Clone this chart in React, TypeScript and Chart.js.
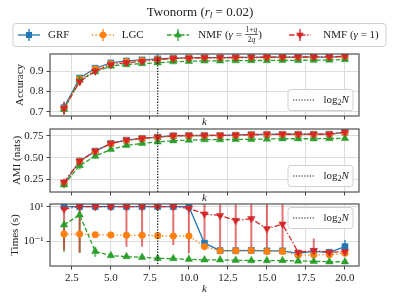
import React, { useEffect, useRef } from "react";
import { Chart, registerables } from "chart.js";
Chart.register(...registerables);

const FONT = "'Liberation Serif', 'Times New Roman', 'DejaVu Serif', serif";

// ---------- data ----------
const K = [2, 3, 4, 5, 6, 7, 8, 9, 10, 11, 12, 13, 14, 15, 16, 17, 18, 19, 20];
const X_TICKS = [2.5, 5, 7.5, 10, 12.5, 15, 17.5, 20];
const LOG2N = 8;

const ACC_TICKS = [0.7, 0.8, 0.9];
const AMI_TICKS = [0.25, 0.5, 0.75];
const TIME_TICKS = [0.1, 10];

const GRF_ACC = [0.72, 0.866, 0.914, 0.94, 0.95, 0.955, 0.96, 0.964, 0.965, 0.966, 0.966, 0.967, 0.967, 0.968, 0.968, 0.968, 0.969, 0.969, 0.971];
const LGC_ACC = [0.716, 0.862, 0.91, 0.936, 0.947, 0.952, 0.957, 0.962, 0.963, 0.964, 0.964, 0.965, 0.965, 0.966, 0.966, 0.967, 0.967, 0.967, 0.969];
const NMFQ_ACC = [0.712, 0.856, 0.897, 0.925, 0.932, 0.937, 0.941, 0.946, 0.948, 0.95, 0.95, 0.951, 0.952, 0.952, 0.953, 0.953, 0.954, 0.954, 0.957];
const NMF1_ACC = [0.716, 0.848, 0.9, 0.932, 0.941, 0.948, 0.955, 0.962, 0.964, 0.966, 0.966, 0.967, 0.968, 0.968, 0.969, 0.969, 0.97, 0.97, 0.973];
const GRF_ACC_ERR = [0.03, 0.012, 0.008, 0.006, 0.005, 0.005, 0.004, 0.004, 0.004, 0.004, 0.004, 0.003, 0.003, 0.003, 0.003, 0.003, 0.003, 0.003, 0.003];
const LGC_ACC_ERR = [0.028, 0.012, 0.008, 0.006, 0.005, 0.005, 0.004, 0.004, 0.004, 0.004, 0.004, 0.003, 0.003, 0.003, 0.003, 0.003, 0.003, 0.003, 0.003];
const NMFQ_ACC_ERR = [0.025, 0.012, 0.009, 0.007, 0.006, 0.005, 0.005, 0.004, 0.004, 0.004, 0.004, 0.004, 0.004, 0.003, 0.003, 0.003, 0.003, 0.003, 0.003];
const NMF1_ACC_ERR = [0.03, 0.02, 0.01, 0.007, 0.006, 0.005, 0.004, 0.004, 0.004, 0.004, 0.004, 0.003, 0.003, 0.003, 0.003, 0.003, 0.003, 0.003, 0.003];

const GRF_AMI = [0.205, 0.46, 0.575, 0.663, 0.7, 0.72, 0.735, 0.75, 0.753, 0.753, 0.754, 0.757, 0.763, 0.766, 0.767, 0.767, 0.767, 0.768, 0.79];
const LGC_AMI = [0.2, 0.455, 0.57, 0.658, 0.695, 0.716, 0.732, 0.747, 0.75, 0.75, 0.751, 0.754, 0.76, 0.763, 0.764, 0.764, 0.764, 0.765, 0.785];
const NMFQ_AMI = [0.19, 0.41, 0.517, 0.594, 0.64, 0.663, 0.68, 0.693, 0.7, 0.705, 0.705, 0.708, 0.71, 0.713, 0.716, 0.716, 0.716, 0.718, 0.72];
const NMF1_AMI = [0.22, 0.46, 0.575, 0.663, 0.7, 0.72, 0.735, 0.75, 0.753, 0.753, 0.754, 0.757, 0.763, 0.766, 0.767, 0.767, 0.767, 0.768, 0.79];
const GRF_AMI_ERR = [0.04, 0.04, 0.03, 0.02, 0.015, 0.012, 0.01, 0.01, 0.009, 0.009, 0.008, 0.008, 0.008, 0.008, 0.008, 0.008, 0.008, 0.008, 0.008];
const LGC_AMI_ERR = [0.045, 0.045, 0.03, 0.02, 0.015, 0.012, 0.01, 0.01, 0.009, 0.009, 0.008, 0.008, 0.008, 0.008, 0.008, 0.008, 0.008, 0.008, 0.008];
const NMFQ_AMI_ERR = [0.035, 0.045, 0.03, 0.02, 0.015, 0.012, 0.011, 0.01, 0.01, 0.01, 0.009, 0.009, 0.009, 0.009, 0.009, 0.009, 0.009, 0.009, 0.009];
const NMF1_AMI_ERR = [0.04, 0.04, 0.03, 0.02, 0.015, 0.012, 0.01, 0.01, 0.009, 0.009, 0.008, 0.008, 0.008, 0.008, 0.008, 0.008, 0.008, 0.008, 0.008];

const GRF_T = [10.5, 10.5, 10.5, 10.5, 10.5, 10.5, 10.5, 10.5, 10.5, 0.081, 0.03, 0.03, 0.031, 0.029, 0.029, 0.021, 0.027, 0.024, 0.051];
const GRF_T_LO = [10, 10, 10, 10, 10, 10, 10, 10, 10, 0.07, 0.027, 0.027, 0.028, 0.026, 0.026, 0.019, 0.024, 0.021, 0.032];
const GRF_T_HI = [11, 11, 11, 11, 11, 11, 11, 11, 11, 0.095, 0.034, 0.034, 0.035, 0.032, 0.032, 0.024, 0.03, 0.027, 0.125];
const LGC_T = [0.27, 0.27, 0.25, 0.24, 0.23, 0.23, 0.22, 0.21, 0.21, 0.051, 0.029, 0.029, 0.03, 0.027, 0.027, 0.016, 0.017, 0.017, 0.021];
const LGC_T_LO = [0.24, 0.24, 0.22, 0.21, 0.2, 0.2, 0.2, 0.19, 0.19, 0.045, 0.026, 0.026, 0.027, 0.024, 0.024, 0.014, 0.015, 0.015, 0.018];
const LGC_T_HI = [0.3, 0.3, 0.28, 0.27, 0.26, 0.26, 0.25, 0.24, 0.24, 0.058, 0.032, 0.032, 0.033, 0.03, 0.03, 0.018, 0.019, 0.019, 0.024];
const NMFQ_T = [0.93, 3.5, 0.027, 0.0155, 0.0135, 0.0123, 0.0107, 0.0103, 0.0095, 0.0087, 0.0087, 0.0083, 0.008, 0.008, 0.008, 0.0075, 0.0072, 0.0068, 0.0068];
const NMFQ_T_LO = [0.025, 0.022, 0.013, 0.014, 0.012, 0.011, 0.0097, 0.0093, 0.0086, 0.0079, 0.0079, 0.0075, 0.0072, 0.0072, 0.0072, 0.0068, 0.0065, 0.0061, 0.0061];
const NMFQ_T_HI = [1.6, 6, 0.05, 0.017, 0.015, 0.0135, 0.0118, 0.0113, 0.0105, 0.0096, 0.0096, 0.0091, 0.0088, 0.0088, 0.0088, 0.0083, 0.0079, 0.0075, 0.0075];
const NMF1_T = [7.6, 10.5, 10.5, 10.5, 10.5, 10.5, 10.5, 10.5, 8.5, 3.9, 3.2, 1.66, 2.1, 0.55, 1.02, 0.024, 0.03, 0.024, 0.026];
const NMF1_T_LO = [0.033, 0.023, 9, 9, 0.051, 0.051, 9, 0.063, 0.021, 0.125, 0.026, 0.026, 0.026, 0.026, 0.026, 0.02, 0.021, 0.02, 0.02];
const NMF1_T_HI = [13, 13, 12, 12, 20, 20, 12, 20, 20, 20, 20, 20, 20, 20, 20, 0.03, 0.15, 0.03, 0.035];

// ---------- labels ----------
type Run = { t: string; size: number; it?: boolean; dy?: number };
type Frac = { num: Run[]; den: Run[] };
type Piece = Run | Frac;

const TITLE: Piece[] = [
  { t: "Twonorm (", size: 13 },
  { t: "r", size: 13, it: true },
  { t: "l", size: 9, it: true, dy: 3 },
  { t: " = 0.02)", size: 13 },
];
const SERIES_LABELS: Piece[][] = [
  [{ t: "GRF", size: 11 }],
  [{ t: "LGC", size: 11 }],
  [
    { t: "NMF (", size: 11 },
    { t: "γ", size: 11, it: true },
    { t: " = ", size: 11 },
    { num: [{ t: "1+", size: 7.5 }, { t: "q", size: 7.5, it: true }], den: [{ t: "2", size: 7.5 }, { t: "q", size: 7.5, it: true }] },
    { t: ")", size: 11 },
  ],
  [{ t: "NMF (", size: 11 }, { t: "γ", size: 11, it: true }, { t: " = 1)", size: 11 }],
];
const LOG_LABEL: Piece[] = [
  { t: "log", size: 11 },
  { t: "2", size: 8, dy: 3 },
  { t: "N", size: 11, it: true },
];

// ---------- styles ----------
const COLORS = ["#1f77b4", "#ff7f0e", "#2ca02c", "#d62728"];
const STYLES = [
  { pointStyle: "rect", radius: 4.3, dash: [] as number[], rotation: 0 },
  { pointStyle: "circle", radius: 3.3, dash: [1.3, 2.2], rotation: 0 },
  { pointStyle: "triangle", radius: 4.3, dash: [4.5, 2], rotation: 0 },
  { pointStyle: "triangle", radius: 4.3, dash: [5.5, 2, 1.3, 2], rotation: 180 },
];
const TEXT = "#222222";
const ERR_ALPHA = 0.65;

function alpha(hex: string, a: number) {
  const n = parseInt(hex.slice(1), 16);
  return `rgba(${(n >> 16) & 255},${(n >> 8) & 255},${n & 255},${a})`;
}
function fontOf(size: number, it?: boolean) {
  return `${it ? "italic " : ""}${size}px ${FONT}`;
}
function pieceW(ctx: CanvasRenderingContext2D, p: Piece): number {
  if ("num" in p) return Math.max(piecesW(ctx, p.num), piecesW(ctx, p.den)) + 2;
  ctx.font = fontOf(p.size, p.it);
  return ctx.measureText(p.t).width;
}
function piecesW(ctx: CanvasRenderingContext2D, ps: Piece[]): number {
  return ps.reduce((s, p) => s + pieceW(ctx, p), 0);
}
function drawPieces(ctx: CanvasRenderingContext2D, ps: Piece[], x: number, y: number, align: "left" | "center") {
  const total = piecesW(ctx, ps);
  let cx = align === "center" ? x - total / 2 : x;
  for (const p of ps) {
    const w = pieceW(ctx, p);
    if ("num" in p) {
      drawPieces(ctx, p.num, cx + w / 2, y - 5, "center");
      drawPieces(ctx, p.den, cx + w / 2, y + 5.5, "center");
      ctx.beginPath();
      ctx.moveTo(cx + 0.5, y - 0.5);
      ctx.lineTo(cx + w - 0.5, y - 0.5);
      ctx.lineWidth = 0.7;
      ctx.strokeStyle = TEXT;
      ctx.setLineDash([]);
      ctx.stroke();
    } else {
      ctx.font = fontOf(p.size, p.it);
      ctx.textAlign = "left";
      ctx.textBaseline = "middle";
      ctx.fillStyle = TEXT;
      ctx.fillText(p.t, cx, y + (p.dy || 0));
    }
    cx += w;
  }
}
function drawMarker(ctx: CanvasRenderingContext2D, i: number, x: number, y: number) {
  const st = STYLES[i];
  const r = st.radius;
  ctx.fillStyle = COLORS[i];
  ctx.beginPath();
  if (st.pointStyle === "rect") {
    const s = r * Math.SQRT1_2;
    ctx.rect(x - s, y - s, 2 * s, 2 * s);
  } else if (st.pointStyle === "circle") {
    ctx.arc(x, y, r, 0, Math.PI * 2);
  } else {
    let a = (st.rotation * Math.PI) / 180;
    for (let j = 0; j < 3; j++) {
      const px = x + Math.sin(a) * r;
      const py = y - Math.cos(a) * r;
      if (j === 0) ctx.moveTo(px, py);
      else ctx.lineTo(px, py);
      a += (2 * Math.PI) / 3;
    }
    ctx.closePath();
  }
  ctx.fill();
}
function roundBox(ctx: CanvasRenderingContext2D, x: number, y: number, w: number, h: number, r: number) {
  ctx.beginPath();
  ctx.moveTo(x + r, y);
  ctx.arcTo(x + w, y, x + w, y + h, r);
  ctx.arcTo(x + w, y + h, x, y + h, r);
  ctx.arcTo(x, y + h, x, y, r);
  ctx.arcTo(x, y, x + w, y, r);
  ctx.closePath();
  ctx.fillStyle = "rgba(255,255,255,0.85)";
  ctx.fill();
  ctx.strokeStyle = "#cfcfcf";
  ctx.lineWidth = 1;
  ctx.setLineDash([]);
  ctx.stroke();
}

type Panel = {
  yTitle: string;
  yType: "linear" | "logarithmic";
  yMin: number;
  yMax: number;
  yTicks: number[];
  fmt: (v: number) => string;
  titlePad: number;
  top: number;
  axisH: number;
  bottomPad: number;
  showX: boolean;
  legendTop: boolean;
  header: boolean;
  series: { vals: number[]; lo: number[]; hi: number[] }[];
};

const sym = (v: number[], e: number[]) => ({ vals: v, lo: v.map((x, i) => x - e[i]), hi: v.map((x, i) => x + e[i]) });
const SUP: Record<string, string> = { "-": "⁻", "0": "⁰", "1": "¹", "2": "²", "3": "³" };
const logFmt = (v: number) => "10" + String(Math.round(Math.log10(v))).split("").map((c) => SUP[c] || c).join("");

const PANELS: Panel[] = [
  {
    yTitle: "Accuracy", yType: "linear", yMin: 0.679, yMax: 0.984, yTicks: ACC_TICKS,
    fmt: (v) => v.toFixed(1), titlePad: 13.4, top: 54, axisH: 13, bottomPad: 171, showX: false, legendTop: false, header: true,
    series: [sym(GRF_ACC, GRF_ACC_ERR), sym(LGC_ACC, LGC_ACC_ERR), sym(NMFQ_ACC, NMFQ_ACC_ERR), sym(NMF1_ACC, NMF1_ACC_ERR)],
  },
  {
    yTitle: "AMI (nats)", yType: "linear", yMin: 0.108, yMax: 0.827, yTicks: AMI_TICKS,
    fmt: (v) => v.toFixed(2), titlePad: 10.1, top: 129, axisH: 13, bottomPad: 95, showX: false, legendTop: false, header: false,
    series: [sym(GRF_AMI, GRF_AMI_ERR), sym(LGC_AMI, LGC_AMI_ERR), sym(NMFQ_AMI, NMFQ_AMI_ERR), sym(NMF1_AMI, NMF1_AMI_ERR)],
  },
  {
    yTitle: "Times (s)", yType: "logarithmic", yMin: 0.00386, yMax: 14.9, yTicks: TIME_TICKS,
    fmt: logFmt, titlePad: 8.4, top: 204, axisH: 30, bottomPad: 4, showX: true, legendTop: true, header: false,
    series: [
      { vals: GRF_T, lo: GRF_T_LO, hi: GRF_T_HI },
      { vals: LGC_T, lo: LGC_T_LO, hi: LGC_T_HI },
      { vals: NMFQ_T, lo: NMFQ_T_LO, hi: NMFQ_T_HI },
      { vals: NMF1_T, lo: NMF1_T_LO, hi: NMF1_T_HI },
    ],
  },
];

function makeConfig(p: Panel): any {
  const panelPlugin = {
    id: "panelDecor",
    beforeDatasetsDraw(chart: any) {
      const { ctx, chartArea: a, scales } = chart;
      ctx.save();
      ctx.beginPath();
      ctx.rect(a.left, a.top, a.right - a.left, a.bottom - a.top);
      ctx.clip();
      p.series.forEach((s, si) => {
        ctx.strokeStyle = alpha(COLORS[si], ERR_ALPHA);
        ctx.lineWidth = 2;
        ctx.setLineDash([]);
        K.forEach((k, i) => {
          const x = scales.x.getPixelForValue(k);
          const y1 = scales.y.getPixelForValue(s.lo[i]);
          const y2 = scales.y.getPixelForValue(s.hi[i]);
          ctx.beginPath();
          ctx.moveTo(x, y1);
          ctx.lineTo(x, y2);
          ctx.stroke();
        });
      });
      ctx.restore();
    },
    afterDatasetsDraw(chart: any) {
      const { ctx, chartArea: a, scales } = chart;
      ctx.save();
      const x = scales.x.getPixelForValue(LOG2N);
      ctx.strokeStyle = "#222";
      ctx.lineWidth = 1.3;
      ctx.setLineDash([1.3, 1.5]);
      ctx.beginPath();
      ctx.moveTo(x, a.top);
      ctx.lineTo(x, a.bottom);
      ctx.stroke();
      // frame
      ctx.setLineDash([]);
      ctx.strokeStyle = "#505050";
      ctx.lineWidth = 1.2;
      ctx.strokeRect(a.left, a.top, a.right - a.left, a.bottom - a.top);
      // inner legend
      const w = 65, h = 21;
      const bx = a.right - 6 - w;
      const by = p.legendTop ? a.top + 3.5 : a.bottom - 5.5 - h;
      roundBox(ctx, bx, by, w, h, 3);
      const cy = by + h / 2;
      ctx.strokeStyle = "#222";
      ctx.lineWidth = 1.2;
      ctx.setLineDash([1.3, 1.5]);
      ctx.beginPath();
      ctx.moveTo(bx + 5, cy);
      ctx.lineTo(bx + 27, cy);
      ctx.stroke();
      ctx.setLineDash([]);
      drawPieces(ctx, LOG_LABEL, bx + 35.5, cy, "left");
      if (p.header) {
        drawPieces(ctx, TITLE, 200, 12.7, "center");
        roundBox(ctx, 13, 23.5, 373, 23, 3);
        const mx = [29, 103, 178, 300];
        const tx = [48, 121.7, 198.3, 323.3];
        const ly = 35;
        for (let i = 0; i < 4; i++) {
          ctx.strokeStyle = alpha(COLORS[i], ERR_ALPHA);
          ctx.lineWidth = 2;
          ctx.setLineDash([]);
          ctx.beginPath();
          ctx.moveTo(mx[i], ly - 6);
          ctx.lineTo(mx[i], ly + 6);
          ctx.stroke();
          ctx.strokeStyle = COLORS[i];
          ctx.lineWidth = 1.3;
          ctx.setLineDash(STYLES[i].dash);
          ctx.beginPath();
          ctx.moveTo(mx[i] - 11, ly);
          ctx.lineTo(mx[i] + 11, ly);
          ctx.stroke();
          ctx.setLineDash([]);
          drawMarker(ctx, i, mx[i], ly);
          drawPieces(ctx, SERIES_LABELS[i], tx[i], ly, "left");
        }
      }
      ctx.restore();
    },
  };

  const tickFont = { family: FONT, size: 11 };
  return {
    type: "line",
    data: {
      datasets: p.series.map((s, i) => ({
        data: K.map((k, j) => ({ x: k, y: s.vals[j] })),
        borderColor: COLORS[i],
        backgroundColor: COLORS[i],
        borderWidth: 1.3,
        borderDash: STYLES[i].dash,
        pointStyle: STYLES[i].pointStyle,
        pointRadius: STYLES[i].radius,
        pointRotation: STYLES[i].rotation,
        pointBackgroundColor: COLORS[i],
        pointBorderColor: COLORS[i],
        pointBorderWidth: 0.5,
        tension: 0,
        order: 3 - i,
      })),
    },
    options: {
      animation: false,
      responsive: false,
      events: [],
      layout: { padding: { left: 0, right: 41, top: p.top, bottom: p.bottomPad } },
      plugins: { legend: { display: false }, tooltip: { enabled: false }, title: { display: false } },
      scales: {
        x: {
          type: "linear",
          min: 1.1,
          max: 20.9,
          afterBuildTicks: (s: any) => {
            s.ticks = X_TICKS.map((v) => ({ value: v }));
          },
          afterFit: (s: any) => {
            s.height = p.axisH;
          },
          ticks: {
            callback: (v: any) => (p.showX ? Number(v).toFixed(1) : ""),
            font: tickFont,
            color: TEXT,
            padding: 2,
            maxRotation: 0,
            autoSkip: false,
          },
          grid: { color: "#dddddd", lineWidth: 1, tickColor: "#444", tickLength: 3.5 },
          border: { display: false },
          title: { display: true, text: "k", font: { family: FONT, size: 11, style: "italic" }, color: TEXT, padding: { top: 0, bottom: 0 } },
        },
        y: {
          type: p.yType,
          min: p.yMin,
          max: p.yMax,
          afterBuildTicks: (s: any) => {
            s.ticks = p.yTicks.map((v) => ({ value: v }));
          },
          afterFit: (s: any) => {
            s.width = 50;
          },
          ticks: { callback: (v: any) => p.fmt(Number(v)), font: tickFont, color: TEXT, padding: 3 },
          grid: { color: "#dddddd", lineWidth: 1, tickColor: "#444", tickLength: 3.5 },
          border: { display: false },
          title: { display: true, text: p.yTitle, font: { family: FONT, size: 11 }, color: TEXT, padding: { top: p.titlePad, bottom: 0 } },
        },
      },
    },
    plugins: [panelPlugin],
  };
}

function PanelChart({ panel }: { panel: Panel }) {
  const ref = useRef<HTMLCanvasElement>(null);
  useEffect(() => {
    const chart = new Chart(ref.current as HTMLCanvasElement, makeConfig(panel));
    return () => chart.destroy();
  }, [panel]);
  return (
    <canvas
      ref={ref}
      width={400}
      height={300}
      style={{ position: "absolute", left: 0, top: 0, width: 400, height: 300 }}
    />
  );
}

export default function App() {
  return (
    <div style={{ position: "fixed", left: 0, top: 0, width: 400, height: 300, background: "#fff", overflow: "hidden" }}>
      {PANELS.map((p, i) => (
        <PanelChart key={i} panel={p} />
      ))}
    </div>
  );
}
